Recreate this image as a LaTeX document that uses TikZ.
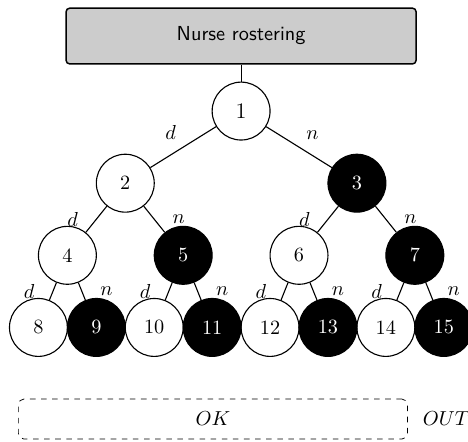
\documentclass[11pt,tikz,border=0pt]{standalone}
\usepackage{amsmath}
\usepackage{amssymb}
\usetikzlibrary{positioning}

\begin{document}
\begin{tikzpicture}[sol/.style={shape=circle,draw=black,semithick,minimum size=1.1cm,inner sep=0pt},solD/.style={sol},solN/.style={sol,fill=black,text=white},probl/.style={shape=rectangle,draw=black,thick,rounded corners=2pt,fill=gray!40,minimum width=6.65cm,minimum height=1.06cm,font=\sffamily},outc/.style={shape=rectangle,draw=black,dashed,rounded corners=3pt,minimum width=7.39cm,minimum height=0.76cm}]
\def\dy{-1.37};
\def\dxa{4.4};
\def\dxb{2.2};
\def\dxc{1.1};

\useasboundingbox (-4.58,2.11) rectangle (4.31,-6.27);

\node[probl] (P) at (0,1.425) {Nurse rostering};

\node[solD,font=\large] (n1) at (0,0) {1};
\draw[semithick] (P) -- (n1);

\node[solD] (n2) at (-0.5*\dxa,\dy) {2};
\draw[semithick] (n1) -- node[above left] {$d$} (n2);
\node[solN] (n3) at (0.5*\dxa,\dy) {3};
\draw[semithick] (n1) -- node[above right] {$n$} (n3);

\node[solD] (n4) at (-0.5*\dxa-0.5*\dxb,2*\dy) {4};
\draw[semithick] (n2) -- node[left=6pt] {$d$} (n4);
\node[solN] (n5) at (-0.5*\dxa+0.5*\dxb,2*\dy) {5};
\draw[semithick] (n2) -- node[right=6pt] {$n$} (n5);
\node[solD] (n6) at (0.5*\dxa-0.5*\dxb,2*\dy) {6};
\draw[semithick] (n3) -- node[left=6pt] {$d$} (n6);
\node[solN] (n7) at (0.5*\dxa+0.5*\dxb,2*\dy) {7};
\draw[semithick] (n3) -- node[right=6pt] {$n$} (n7);

\node[solD] (n8) at (-0.5*\dxa-0.5*\dxb-0.5*\dxc,3*\dy) {8};
\draw[semithick] (n4) -- node[left=6pt] {$d$} (n8);
\node[solN] (n9) at (-0.5*\dxa-0.5*\dxb+0.5*\dxc,3*\dy) {9};
\draw[semithick] (n4) -- node[right=6pt] {$n$} (n9);
\node[solD] (n10) at (-0.5*\dxa+0.5*\dxb-0.5*\dxc,3*\dy) {10};
\draw[semithick] (n5) -- node[left=6pt] {$d$} (n10);
\node[solN] (n11) at (-0.5*\dxa+0.5*\dxb+0.5*\dxc,3*\dy) {11};
\draw[semithick] (n5) -- node[right=6pt] {$n$} (n11);
\node[solD] (n12) at (0.5*\dxa-0.5*\dxb-0.5*\dxc,3*\dy) {12};
\draw[semithick] (n6) -- node[left=6pt] {$d$} (n12);
\node[solN] (n13) at (0.5*\dxa-0.5*\dxb+0.5*\dxc,3*\dy) {13};
\draw[semithick] (n6) -- node[right=6pt] {$n$} (n13);
\node[solD] (n14) at (0.5*\dxa+0.5*\dxb-0.5*\dxc,3*\dy) {14};
\draw[semithick] (n7) -- node[left=6pt] {$d$} (n14);
\node[solN] (n15) at (0.5*\dxa+0.5*\dxb+0.5*\dxc,3*\dy) {15};
\draw[semithick] (n7) -- node[right=6pt] {$n$} (n15);

\node[outc] (ok) at (-0.536,-5.85) {$OK$};
\node[right=4.3pt of ok] (out) {$OUT$};
\end{tikzpicture}
\end{document}
